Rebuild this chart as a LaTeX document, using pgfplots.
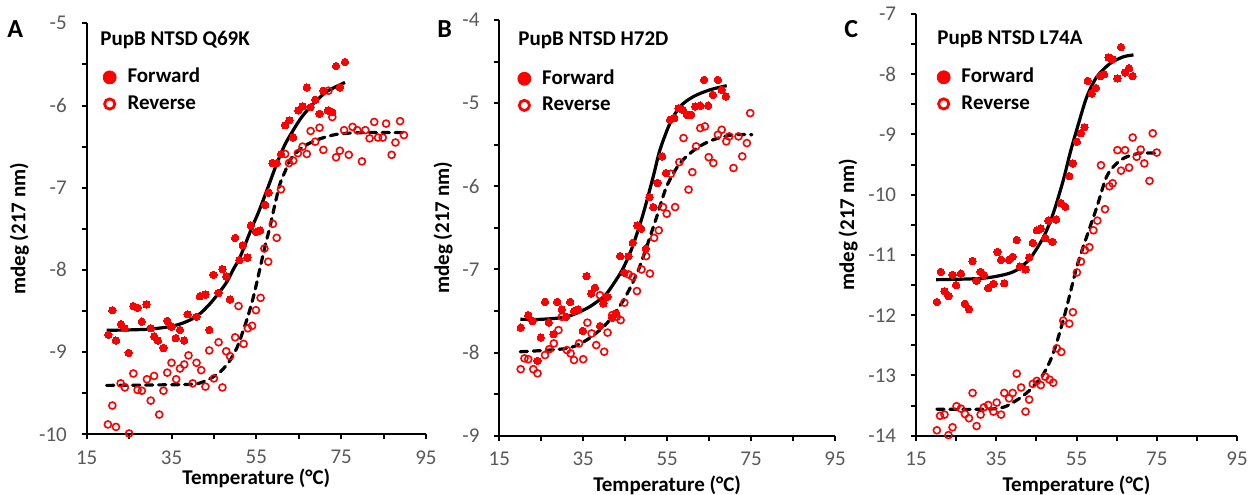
\documentclass[border=0pt]{standalone}
\usepackage{fontspec}
\setmainfont{Carlito}
\usepackage{pgfplots}
\pgfplotsset{compat=1.18}
\definecolor{tickgray}{HTML}{595959}
\definecolor{myred}{HTML}{FF0000}
\newcommand{\lblfont}{\bfseries\fontsize{10.5}{12}\selectfont}
\pgfplotsset{
  panel/.style={
    scale only axis,
    axis x line=bottom, axis y line=left,
    axis line style={-, line width=1pt, black},
    tick style={black, line width=1pt},
    tick align=outside,
    major tick length=2.5pt, minor tick length=2.5pt,
    xmin=15, xmax=95, xtick={15,35,55,75,95}, xticklabels={15,35,55,75,95},
    minor x tick num=1, minor y tick num=1,
    clip=false,
    ticklabel style={font=\fontsize{10.5}{12}\selectfont, text=tickgray, inner sep=0pt},
    xticklabel style={anchor=north, yshift=-5.4pt},
    yticklabel style={anchor=east, xshift=-7.25pt},
    label style={font=\lblfont},
    xlabel={Temperature (°C)},
    ylabel={mdeg (217 nm)},
    legend cell align=left,
    legend style={draw=none, fill=none, inner sep=0pt, outer sep=0pt,
      font=\lblfont, row sep=4pt, anchor=north west,
      nodes={inner sep=0pt, text height=7.3pt, text depth=2pt}},
  },
  fwd/.style={only marks, mark=*, mark size=1.85pt, color=myred,
    mark options={fill=myred, draw=myred, line width=0pt},
    legend image code/.code={\fill[myred] (0pt,0pt) circle (3.25pt); \path (-3.5pt,0pt) (8.7pt,0pt);}},
  rev/.style={only marks, mark=o, mark size=1.75pt, color=myred,
    mark options={draw=myred, line width=0.8pt},
    legend image code/.code={\draw[myred, line width=1.4pt] (0pt,0pt) circle (2.55pt); \path (-3.5pt,0pt) (8.7pt,0pt);}},
  fitsolid/.style={black, line width=1.6pt, smooth, no marks, forget plot},
  fitdash/.style={black, line width=1.6pt, smooth, no marks, forget plot, line cap=round, dash pattern=on 3.6pt off 2.9pt},
}
\begin{document}
\begin{tikzpicture}
\path[use as bounding box] (0,0) rectangle (624.5pt,247pt);
% ---------------- Panel A
\begin{axis}[panel, at={(43.35pt,29.85pt)}, anchor=south west,
  width=169.65pt, height=205.5pt,
  ymin=-10, ymax=-5, ytick={-10,-9,-8,-7,-6,-5}, yticklabels={-10,-9,-8,-7,-6,-5},
  xlabel style={at={([yshift=-25pt]axis description cs:0.5,0)}, anchor=base},
  ylabel style={at={([xshift=-30.6pt]axis description cs:0,0.5)}, anchor=base},
  legend style={at={(axis description cs:0.046,0.891)}}]
\addplot[fwd] coordinates {(20.1,-8.79) (21.05,-8.49) (21.9,-8.86) (23.1,-8.66) (23.9,-8.71) (24.9,-9.01) (26.0,-8.44) (27.0,-8.46) (28.0,-8.63) (29.1,-8.42) (30.1,-8.71) (30.9,-8.81) (31.8,-8.86) (33.1,-8.95) (34.0,-8.62) (35.0,-8.69) (36.0,-8.83) (37.0,-8.73) (38.0,-8.86) (38.8,-8.54) (40.9,-8.57) (41.7,-8.32) (43.0,-8.30) (43.9,-8.73) (44.9,-8.06) (46.1,-8.28) (47.0,-7.99) (47.9,-8.08) (48.8,-8.36) (50.0,-7.61) (51.0,-7.88) (51.8,-7.70) (52.9,-7.85) (53.7,-7.46) (54.9,-7.54) (55.9,-7.52) (57.1,-7.21) (57.9,-7.06) (58.8,-6.70) (59.8,-6.70) (60.8,-6.59) (61.8,-6.24) (62.8,-6.18) (63.7,-6.39) (64.9,-6.06) (65.9,-6.01) (66.9,-5.78) (67.8,-6.02) (68.9,-5.93) (69.9,-6.10) (70.8,-5.82) (71.9,-6.06) (72.9,-6.08) (73.8,-5.52) (74.7,-5.78) (75.9,-5.47)};
\addlegendentry{Forward}
\addplot[rev] coordinates {(20.0,-9.88) (21.05,-9.65) (21.9,-9.91) (23.0,-9.38) (24.0,-9.43) (25.0,-9.99) (26.0,-9.26) (27.0,-9.46) (28.0,-9.47) (29.2,-9.33) (30.1,-9.59) (30.9,-9.29) (32.1,-9.76) (33.1,-9.47) (34.0,-9.25) (35.0,-9.13) (36.1,-9.33) (37.0,-9.20) (38.0,-9.15) (39.0,-9.04) (40.0,-9.38) (40.9,-9.13) (42.0,-9.22) (43.0,-9.42) (43.9,-8.98) (45.0,-9.32) (46.1,-8.88) (47.0,-9.43) (47.9,-8.99) (48.8,-9.05) (50.0,-8.82) (50.8,-8.44) (52.0,-8.90) (53.0,-8.71) (54.0,-8.68) (54.9,-8.49) (56.0,-8.34) (56.9,-7.74) (57.8,-7.90) (58.9,-7.44) (59.8,-7.61) (60.8,-7.02) (61.8,-6.59) (62.7,-6.70) (63.7,-6.67) (64.8,-6.58) (65.9,-6.50) (66.9,-6.59) (67.8,-6.31) (68.9,-6.44) (69.9,-6.27) (70.8,-6.54) (72.0,-5.82) (72.9,-6.14) (73.8,-6.63) (74.7,-6.55) (75.7,-6.30) (76.8,-6.60) (77.7,-6.26) (78.8,-6.30) (79.9,-6.68) (80.7,-6.30) (81.7,-6.40) (82.8,-6.20) (83.7,-6.39) (84.8,-6.39) (85.6,-6.22) (86.9,-6.60) (87.8,-6.45) (88.9,-6.19) (89.8,-6.36)};
\addlegendentry{Reverse}
\addplot[fitsolid] coordinates {(19.7,-8.735) (25,-8.73) (30,-8.72) (34.6,-8.69) (37.5,-8.65) (40.1,-8.59) (42,-8.52) (44.1,-8.41) (46,-8.29) (48.0,-8.15) (49.6,-7.99) (51.2,-7.84) (53.9,-7.49) (55.5,-7.30) (57.5,-7.03) (59.8,-6.71) (61.7,-6.48) (63.7,-6.30) (65.7,-6.14) (67.7,-6.02) (69.6,-5.92) (71.6,-5.83) (73.8,-5.77) (75.9,-5.72)};
\addplot[fitdash] coordinates {(19.7,-9.405) (30,-9.40) (40.1,-9.39) (43,-9.35) (44.9,-9.30) (46.9,-9.22) (48.8,-9.10) (50.4,-8.95) (51.9,-8.74) (53.1,-8.55) (54.3,-8.33) (55.3,-8.11) (56.3,-7.88) (57.2,-7.68) (58.2,-7.48) (59.4,-7.20) (60.6,-6.95) (61.8,-6.80) (63.0,-6.66) (64.5,-6.57) (66.1,-6.50) (69.2,-6.42) (74.0,-6.35) (80,-6.33) (89.8,-6.33)};
\end{axis}
% ---------------- Panel B
\begin{axis}[panel, at={(249.65pt,29.15pt)}, anchor=south west,
  width=167.85pt, height=207.85pt,
  ymin=-9, ymax=-4, ytick={-9,-8,-7,-6,-5,-4}, yticklabels={-9,-8,-7,-6,-5,-4},
  xlabel style={at={([yshift=-27.9pt]axis description cs:0.5,0)}, anchor=base},
  ylabel style={at={([xshift=-25.15pt]axis description cs:0,0.5)}, anchor=base},
  legend style={at={(axis description cs:0.0527,0.881)}}]
\addplot[fwd] coordinates {(20.1,-7.70) (21.9,-7.55) (22.9,-7.62) (24.1,-8.10) (24.9,-7.82) (25.9,-7.39) (26.8,-7.64) (27.9,-7.78) (28.8,-7.39) (29.9,-7.48) (30.9,-7.57) (31.9,-7.39) (32.8,-7.50) (33.8,-7.48) (34.9,-7.74) (35.8,-7.08) (36.9,-7.29) (37.8,-7.22) (39.0,-7.68) (39.8,-7.41) (40.8,-7.33) (41.9,-7.58) (42.8,-7.53) (43.8,-6.84) (44.8,-7.04) (45.8,-6.84) (46.8,-6.68) (47.9,-6.47) (48.8,-6.51) (49.9,-6.75) (50.8,-6.13) (51.7,-6.25) (52.7,-5.96) (53.8,-5.64) (54.7,-5.84) (55.7,-5.20) (56.7,-5.18) (57.7,-5.06) (58.7,-5.08) (59.7,-5.14) (60.7,-5.14) (61.7,-5.04) (62.9,-5.03) (63.8,-4.72) (64.8,-5.03) (65.9,-4.90) (67.1,-4.72) (68.0,-4.84) (69.0,-4.92)};
\addlegendentry{Forward}
\addplot[rev] coordinates {(20.1,-8.20) (21.0,-8.07) (21.9,-8.08) (23.1,-8.20) (24.1,-8.25) (25.9,-8.03) (26.9,-7.96) (28.0,-7.89) (29.1,-7.73) (29.9,-7.57) (31.1,-7.97) (32.0,-8.01) (32.8,-8.09) (34.0,-7.89) (35.0,-8.08) (36.0,-7.64) (37.0,-7.77) (38.1,-7.91) (39.0,-7.31) (40.0,-7.99) (40.8,-7.76) (41.9,-7.55) (43.0,-7.57) (43.9,-7.61) (44.8,-7.40) (45.8,-7.06) (46.8,-7.09) (47.8,-7.26) (48.9,-7.00) (50.0,-6.84) (50.9,-7.05) (51.9,-6.62) (53.0,-6.53) (54.0,-6.25) (54.9,-6.33) (55.9,-5.85) (56.9,-6.25) (57.9,-5.71) (58.9,-5.42) (60.1,-6.04) (61.0,-5.83) (61.9,-5.52) (62.9,-5.30) (64.0,-5.28) (64.9,-5.65) (66.0,-5.72) (67.1,-5.38) (68.0,-5.32) (69.1,-5.46) (69.8,-5.40) (70.8,-5.78) (72.0,-5.40) (72.9,-5.64) (74.0,-5.48) (74.8,-5.12)};
\addlegendentry{Reverse}
\addplot[fitsolid] coordinates {(20,-7.60) (25,-7.60) (31,-7.57) (35.8,-7.47) (38.5,-7.38) (40.6,-7.29) (43.8,-7.05) (45.5,-6.88) (47,-6.69) (49.3,-6.33) (51.7,-5.88) (53.3,-5.56) (55.7,-5.24) (58.1,-5.04) (61.3,-4.92) (65.2,-4.84) (69.2,-4.79)};
\addplot[fitdash] coordinates {(20,-7.99) (31,-7.95) (35.8,-7.85) (40.6,-7.65) (44.6,-7.37) (47.8,-7.05) (50.1,-6.73) (52.5,-6.37) (54.9,-6.00) (58.1,-5.72) (62.1,-5.54) (66,-5.44) (70.8,-5.38) (75.2,-5.38)};
\end{axis}
% ---------------- Panel C
\begin{axis}[panel, at={(458pt,29.15pt)}, anchor=south west,
  width=160.5pt, height=210.85pt,
  ymin=-14, ymax=-7, ytick={-14,-13,-12,-11,-10,-9,-8,-7}, yticklabels={-14,-13,-12,-11,-10,-9,-8,-7},
  xlabel style={at={([yshift=-27.7pt]axis description cs:0.5,0)}, anchor=base},
  ylabel style={at={([xshift=-31pt]axis description cs:0,0.5)}, anchor=base},
  legend style={at={(axis description cs:0.0632,0.872)}}]
\addplot[fwd] coordinates {(20.2,-11.78) (21.2,-11.28) (22.1,-11.60) (23.1,-11.68) (24.1,-11.33) (25.0,-11.50) (26.2,-11.31) (27.2,-11.81) (28.2,-11.90) (29.1,-11.10) (30.1,-11.43) (31.1,-11.28) (31.9,-11.33) (33.0,-11.55) (34.3,-11.48) (35.3,-10.95) (36.2,-11.08) (37.0,-11.47) (38.2,-11.08) (39.1,-11.03) (40.1,-10.75) (40.9,-11.19) (42.3,-11.24) (43.2,-11.04) (44.1,-10.80) (45.1,-10.59) (46.1,-10.56) (47.2,-10.72) (48.0,-10.43) (49.0,-10.78) (49.9,-10.41) (51.1,-10.14) (52.2,-10.20) (53.2,-9.69) (54.1,-9.48) (55.1,-9.12) (56.1,-8.98) (57.0,-8.88) (57.8,-8.11) (58.8,-8.32) (59.8,-8.23) (60.9,-8.03) (61.9,-8.00) (63.0,-7.72) (64.0,-7.75) (65.2,-8.07) (66.1,-7.55) (67.1,-7.97) (68.1,-7.90) (69.0,-8.03)};
\addlegendentry{Forward}
\addplot[rev] coordinates {(20.2,-13.91) (21.0,-13.67) (22.1,-13.65) (23.1,-13.99) (24.1,-13.86) (25.1,-13.51) (26.2,-13.55) (27.2,-13.64) (28.2,-13.71) (29.1,-13.29) (30.1,-13.84) (31.1,-13.65) (31.9,-13.53) (33.0,-13.49) (34.3,-13.60) (35.1,-13.45) (36.2,-13.65) (37.0,-13.29) (38.2,-13.38) (39.1,-13.29) (40.1,-12.97) (41.2,-13.20) (42.3,-13.60) (43.2,-13.40) (44.1,-13.14) (45.1,-13.09) (46.1,-13.16) (47.2,-13.02) (48.3,-13.07) (49.2,-13.12) (50.1,-12.55) (51.2,-12.61) (51.7,-12.09) (53.2,-12.14) (54.1,-11.95) (55.1,-11.29) (56.1,-11.11) (57.1,-10.92) (58.2,-10.87) (59.2,-10.59) (60.2,-10.43) (61.1,-9.51) (62.1,-10.24) (63.2,-9.86) (64.0,-9.81) (65.2,-9.26) (66.1,-9.60) (67.1,-9.26) (68.1,-9.55) (69.0,-9.05) (70.0,-9.37) (71.0,-9.25) (71.9,-9.48) (73.2,-9.77) (74.0,-8.98) (75.0,-9.30)};
\addlegendentry{Reverse}
\addplot[fitsolid] coordinates {(20,-11.41) (31,-11.39) (36.8,-11.33) (40.1,-11.25) (43.4,-11.06) (46.8,-10.70) (49.2,-10.31) (51.7,-9.76) (53.4,-9.31) (55.5,-8.82) (57.6,-8.37) (60.1,-8.04) (63.4,-7.82) (66.7,-7.71) (69.2,-7.68)};
\addplot[fitdash] coordinates {(20.2,-13.56) (35.1,-13.55) (40.1,-13.41) (43.4,-13.24) (46.8,-12.97) (49.2,-12.63) (51.7,-12.08) (53.4,-11.64) (55.1,-11.19) (56.7,-10.86) (58.4,-10.53) (60.1,-10.20) (62.5,-9.70) (65,-9.48) (67.5,-9.37) (70.9,-9.31) (74.6,-9.31)};
\end{axis}
% ---------------- panel letters and titles
\node[anchor=base west, inner sep=0pt, font=\bfseries\fontsize{13}{15}\selectfont] at (3.5pt,228.5pt) {A};
\node[anchor=base west, inner sep=0pt, font=\bfseries\fontsize{13}{15}\selectfont] at (218.5pt,228.5pt) {B};
\node[anchor=base west, inner sep=0pt, font=\bfseries\fontsize{13}{15}\selectfont] at (422pt,228.5pt) {C};
\node[anchor=base west, inner sep=0pt, font=\lblfont] at (50pt,224pt) {PupB NTSD Q69K};
\node[anchor=base west, inner sep=0pt, font=\lblfont] at (259pt,224pt) {PupB NTSD H72D};
\node[anchor=base west, inner sep=0pt, font=\lblfont] at (468.5pt,224.5pt) {PupB NTSD L74A};
\end{tikzpicture}
\end{document}
